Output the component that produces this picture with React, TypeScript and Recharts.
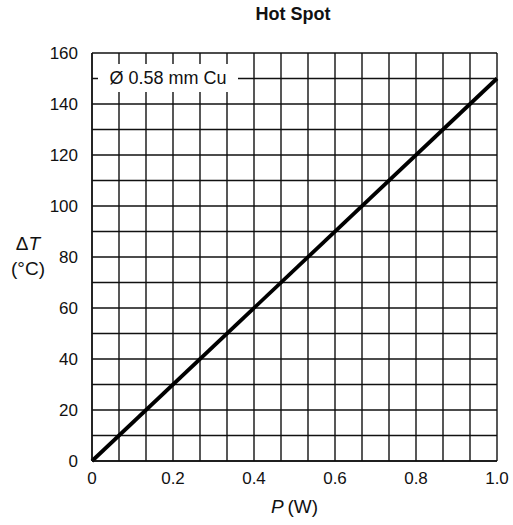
import React from "react";
import { LineChart, Line, XAxis, YAxis, CartesianGrid } from "recharts";

const powerW = [0, 1.0];
const deltaT = [0, 150];
const xGridTicks = [0, 1 / 15, 2 / 15, 0.2, 4 / 15, 5 / 15, 0.4, 7 / 15, 8 / 15, 0.6, 10 / 15, 11 / 15, 0.8, 13 / 15, 14 / 15, 1.0];
const xLabelTicks = [0, 0.2, 0.4, 0.6, 0.8, 1.0];
const xTickLabels = ["0", "0.2", "0.4", "0.6", "0.8", "1.0"];
const yGridTicks = [0, 10, 20, 30, 40, 50, 60, 70, 80, 90, 100, 110, 120, 130, 140, 150, 160];
const yTickLabels = ["0", "20", "40", "60", "80", "100", "120", "140", "160"];

const data = powerW.map((p, i) => ({ p, t: deltaT[i] }));

const FONT = "'Liberation Sans', Arial, Helvetica, sans-serif";

const xFmt = (v: number) => {
  const idx = xLabelTicks.findIndex((t) => Math.abs(t - v) < 1e-6);
  return idx >= 0 ? xTickLabels[idx] : "";
};
const yFmt = (v: number) => {
  const s = String(v);
  return yTickLabels.includes(s) ? s : "";
};

export default function App() {
  return (
    <div style={{ position: "absolute", left: 0, top: 0, width: 513, height: 525, background: "#fff", fontFamily: FONT }}>
      <LineChart width={513} height={525} data={data} margin={{ top: 53, right: 16, bottom: 34, left: 52 }}>
        <CartesianGrid stroke="#111" strokeWidth={1.4} />
        <XAxis
          dataKey="p"
          type="number"
          domain={[0, 1]}
          ticks={xGridTicks}
          tickFormatter={xFmt}
          interval={0}
          tickLine={false}
          axisLine={{ stroke: "#111", strokeWidth: 1.4 }}
          height={30}
          tickMargin={5}
          tick={{ fill: "#111", fontSize: 17, fontFamily: FONT }}
        />
        <YAxis
          type="number"
          domain={[0, 160]}
          ticks={yGridTicks}
          tickFormatter={yFmt}
          interval={0}
          tickLine={false}
          axisLine={{ stroke: "#111", strokeWidth: 1.4 }}
          width={40}
          tickMargin={8}
          tick={{ fill: "#111", fontSize: 17, fontFamily: FONT }}
        />
        <Line dataKey="t" type="linear" stroke="#000" strokeWidth={3.8} dot={false} isAnimationActive={false} />
      </LineChart>
      <div style={{ position: "absolute", left: 0, top: 4, width: 586, textAlign: "center", fontWeight: "bold", fontSize: 18, color: "#111" }}>
        Hot Spot
      </div>
      <div style={{ position: "absolute", left: 98, top: 64, width: 140, height: 28, background: "#fff", display: "flex", alignItems: "center", justifyContent: "center", fontSize: 18, color: "#111" }}>
        Ø 0.58 mm Cu
      </div>
      <div style={{ position: "absolute", left: 0, top: 231, width: 56, textAlign: "center", fontSize: 19, color: "#111", lineHeight: "25px" }}>
        <div>Δ<i>T</i></div>
        <div>(°C)</div>
      </div>
      <div style={{ position: "absolute", left: 92, top: 496, width: 405, textAlign: "center", fontSize: 19, color: "#111" }}>
        <i>P</i>{"\u2009"}(W)
      </div>
    </div>
  );
}
